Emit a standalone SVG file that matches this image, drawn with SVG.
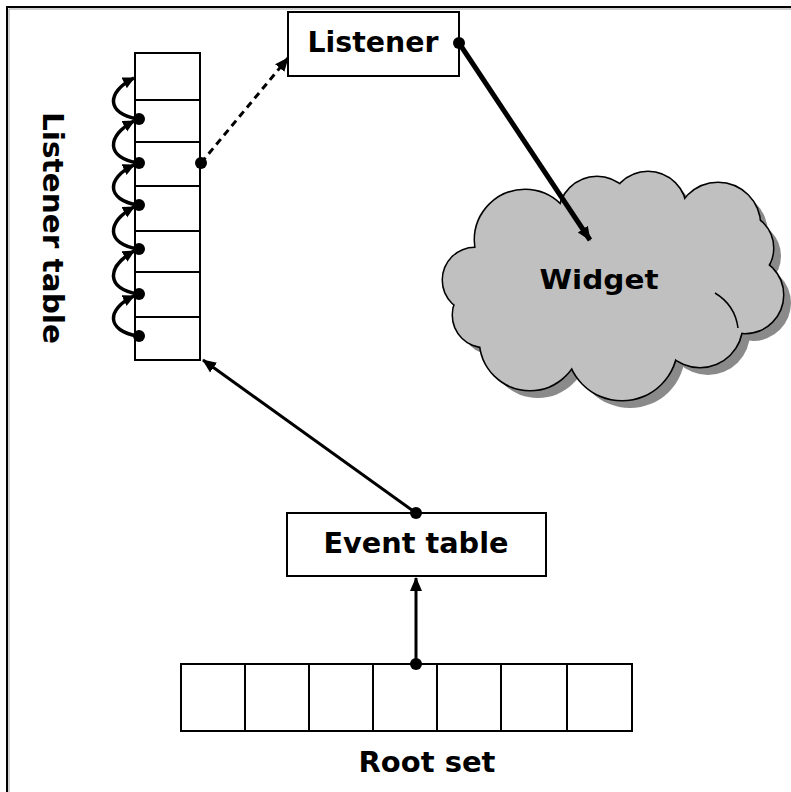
<svg xmlns="http://www.w3.org/2000/svg" width="791" height="792" viewBox="0 0 791 792">
<style>
  .box { fill: #fff; stroke: #000; stroke-width: 2; }
  .cell { fill: none; stroke: #000; stroke-width: 2; }
  .lbl { font-family: "DejaVu Sans", Verdana, sans-serif; font-weight: bold; fill: #000; }
  .con { fill: none; stroke: #000; }
  .dot { fill: #000; }
</style>
<defs>
  <marker id="ah" markerUnits="userSpaceOnUse" markerWidth="16" markerHeight="16" refX="13" refY="7" orient="auto">
    <path d="M0,1 L14,7 L0,13 Z" fill="#000"/>
  </marker>
  <marker id="ahs" markerUnits="userSpaceOnUse" markerWidth="14" markerHeight="14" refX="11" refY="6" orient="auto">
    <path d="M0,0 L12,6 L0,12 Z" fill="#000"/>
  </marker>
</defs>
<rect x="0" y="0" width="791" height="792" fill="#fff"/>
<path d="M7 792 V7 H791" fill="none" stroke="#000" stroke-width="2"/>
<path d="M9 792 V9 H791" fill="none" stroke="#a0a0a0" stroke-width="1"/>

<g id="listener-table">
  <rect class="box" x="135" y="53" width="65" height="307"/>
  <path class="cell" d="M135 100 H200 M135 142 H200 M135 186 H200 M135 231 H200 M135 272 H200 M135 317 H200"/>
  <text class="lbl" font-size="28" transform="translate(43,228) rotate(90)" text-anchor="middle" textLength="232" lengthAdjust="spacingAndGlyphs">Listener table</text>
</g>

<g id="listener">
  <rect class="box" x="288" y="12" width="171" height="64"/>
  <text class="lbl" font-size="29" x="373" y="52" text-anchor="middle" textLength="131" lengthAdjust="spacingAndGlyphs">Listener</text>
</g>

<g id="widget">
  <g fill="#8a8a8a" transform="translate(8,8)">
    <circle cx="475" cy="280" r="32"/><circle cx="525" cy="240" r="50"/><circle cx="597" cy="215" r="38"/>
    <circle cx="648" cy="210" r="38"/><circle cx="718" cy="225" r="42"/><circle cx="738" cy="248" r="35"/>
    <circle cx="745" cy="295" r="38"/><circle cx="700" cy="325" r="42"/><circle cx="622" cy="345" r="55"/>
    <circle cx="530" cy="340" r="50"/><circle cx="485" cy="315" r="32"/><circle cx="610" cy="280" r="90"/>
  </g>
  <g fill="#c0c0c0" stroke="#000" stroke-width="3">
    <circle cx="475" cy="280" r="32"/><circle cx="525" cy="240" r="50"/><circle cx="597" cy="215" r="38"/>
    <circle cx="648" cy="210" r="38"/><circle cx="718" cy="225" r="42"/><circle cx="738" cy="248" r="35"/>
    <circle cx="745" cy="295" r="38"/><circle cx="700" cy="325" r="42"/><circle cx="622" cy="345" r="55"/>
    <circle cx="530" cy="340" r="50"/><circle cx="485" cy="315" r="32"/>
  </g>
  <g fill="#c0c0c0">
    <circle cx="475" cy="280" r="32"/><circle cx="525" cy="240" r="50"/><circle cx="597" cy="215" r="38"/>
    <circle cx="648" cy="210" r="38"/><circle cx="718" cy="225" r="42"/><circle cx="738" cy="248" r="35"/>
    <circle cx="745" cy="295" r="38"/><circle cx="700" cy="325" r="42"/><circle cx="622" cy="345" r="55"/>
    <circle cx="530" cy="340" r="50"/><circle cx="485" cy="315" r="32"/><circle cx="610" cy="280" r="90"/>
    <circle cx="515" cy="295" r="45"/><circle cx="705" cy="280" r="45"/><circle cx="660" cy="260" r="60"/>
  </g>
  <path d="M715 293 Q735 305 738 328" fill="none" stroke="#000" stroke-width="1.5"/>
  <text class="lbl" font-size="26" x="599" y="289" text-anchor="middle" textLength="119" lengthAdjust="spacingAndGlyphs">Widget</text>
</g>

<g id="event-table">
  <rect class="box" x="287" y="513" width="259" height="63"/>
  <text class="lbl" font-size="29" x="416" y="553" text-anchor="middle" textLength="185" lengthAdjust="spacingAndGlyphs">Event table</text>
</g>

<g id="root-set">
  <rect class="box" x="181" y="664" width="451" height="67"/>
  <path class="cell" d="M245 664 V731 M309 664 V731 M373 664 V731 M437 664 V731 M501 664 V731 M567 664 V731"/>
  <text class="lbl" font-size="29" x="427" y="772" text-anchor="middle" textLength="137" lengthAdjust="spacingAndGlyphs">Root set</text>
</g>

<g id="connectors">
  <path class="con" d="M138 119 C106 114 106 92 134 78" stroke-width="3.5" marker-end="url(#ahs)"/>
  <path class="con" d="M138 163 C106 158 106 136 134 121" stroke-width="3.5" marker-end="url(#ahs)"/>
  <path class="con" d="M138 205 C106 200 106 178 134 165" stroke-width="3.5" marker-end="url(#ahs)"/>
  <path class="con" d="M138 249 C106 244 106 222 134 207" stroke-width="3.5" marker-end="url(#ahs)"/>
  <path class="con" d="M138 294 C106 289 106 267 134 251" stroke-width="3.5" marker-end="url(#ahs)"/>
  <path class="con" d="M138 336 C106 331 106 309 134 296" stroke-width="3.5" marker-end="url(#ahs)"/>
  <circle class="dot" cx="139" cy="119" r="6"/>
  <circle class="dot" cx="139" cy="163" r="6"/>
  <circle class="dot" cx="139" cy="205" r="6"/>
  <circle class="dot" cx="139" cy="249" r="6"/>
  <circle class="dot" cx="139" cy="294" r="6"/>
  <circle class="dot" cx="139" cy="336" r="6"/>

  <path class="con" d="M201 163 L288 58" stroke-width="3" stroke-dasharray="7,5" marker-end="url(#ah)"/>
  <circle class="dot" cx="201" cy="163" r="6"/>

  <path class="con" d="M459 43 L590 240" stroke-width="5" marker-end="url(#ah)"/>
  <circle class="dot" cx="459" cy="43" r="6"/>

  <path class="con" d="M416 513 L203 360" stroke-width="3" marker-end="url(#ah)"/>
  <circle class="dot" cx="416" cy="513" r="6"/>

  <path class="con" d="M416 664 L416 578" stroke-width="3" marker-end="url(#ah)"/>
  <circle class="dot" cx="416" cy="664" r="6"/>
</g>
</svg>
